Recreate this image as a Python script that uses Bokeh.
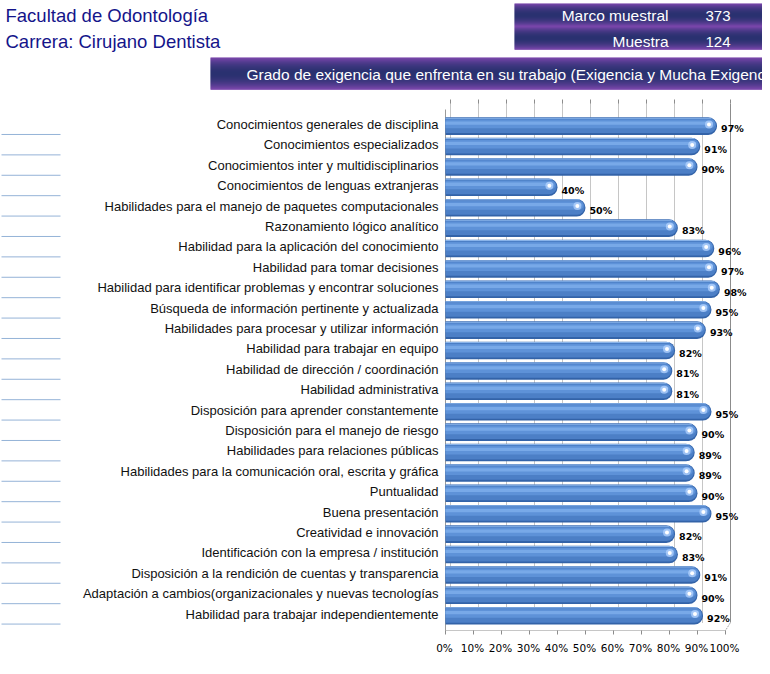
import math
from bokeh.plotting import figure
from bokeh.models import Range1d
from bokeh.embed import file_html
from bokeh.resources import INLINE
from bokeh.core.properties import value

# ---------------- data ----------------
categories = [
    "Conocimientos generales de disciplina",
    "Conocimientos especializados",
    "Conocimientos inter y multidisciplinarios",
    "Conocimientos de lenguas extranjeras",
    "Habilidades para el manejo de paquetes computacionales",
    "Razonamiento lógico analítico",
    "Habilidad para la aplicación del conocimiento",
    "Habilidad para tomar decisiones",
    "Habilidad para identificar problemas y encontrar soluciones",
    "Búsqueda de información pertinente y actualizada",
    "Habilidades para procesar y utilizar información",
    "Habilidad para trabajar en equipo",
    "Habilidad de dirección / coordinación",
    "Habilidad administrativa",
    "Disposición para aprender constantemente",
    "Disposición para el manejo de riesgo",
    "Habilidades para relaciones públicas",
    "Habilidades para la comunicación oral, escrita y gráfica",
    "Puntualidad",
    "Buena presentación",
    "Creatividad e innovación",
    "Identificación con la empresa / institución",
    "Disposición a la rendición de cuentas y transparencia",
    "Adaptación a cambios(organizacionales y nuevas tecnologías",
    "Habilidad para trabajar independientemente",
]
values = [97, 91, 90, 40, 50, 83, 96, 97, 98, 95, 93, 82, 81, 81, 95,
          90, 89, 89, 90, 95, 82, 83, 91, 90, 92]
tick_values = [0, 10, 20, 30, 40, 50, 60, 70, 80, 90, 100]
tick_labels = ["0%", "10%", "20%", "30%", "40%", "50%", "60%", "70%", "80%", "90%", "100%"]
header_lines = ["Facultad de Odontología", "Carrera: Cirujano Dentista"]
box_labels = ["Marco muestral", "Muestra"]
box_numbers = ["373", "124"]
title_text = "Grado de exigencia que enfrenta en su trabajo (Exigencia y Mucha Exigencia)"

# ---------------- layout helpers (pixel <-> data) ----------------
W, H = 762, 666
X0_PX = 445.0        # pixel of 0 %
PX_PER_UNIT = 2.8    # pixels per 1 %
Y0_PX = 125.0        # pixel of first category centre
ROW_PX = 20.4        # pixels per category


def px2x(px):
    return (px - X0_PX) / PX_PER_UNIT


def py2y(py):
    return (py - Y0_PX) / ROW_PX


p = figure(width=W, height=H,
           x_range=Range1d(px2x(0), px2x(W)),
           y_range=Range1d(py2y(H), py2y(0)),
           x_axis_location=None, y_axis_location=None,
           output_backend="svg", toolbar_location=None, min_border=0)
p.xgrid.visible = False
p.ygrid.visible = False
p.outline_line_color = None
p.background_fill_color = "white"
p.border_fill_color = "white"

idx = list(range(len(categories)))

# ---------------- gradient banners ----------------
PURPLE = (112, 46, 166)
NAVY = (12, 20, 92)


def mix(t):
    w = math.sin(math.pi * t) ** 0.8
    c = [int(round(PURPLE[k] * (1 - w) + NAVY[k] * w)) for k in range(3)]
    return "#%02x%02x%02x" % tuple(c)


def banner(left_px, right_px, top_px, bottom_px, nbands):
    L, R, T, B, C = [], [], [], [], []
    band_h = (bottom_px - top_px) / nbands
    step = 1.0
    for b in range(nbands):
        y = 0.0
        while y < band_h - 1e-9:
            y2 = min(band_h, y + step)
            t = (y + y2) / 2 / band_h
            L.append(px2x(left_px))
            R.append(px2x(right_px))
            T.append(py2y(top_px + b * band_h + y))
            B.append(py2y(top_px + b * band_h + y2 + 0.3))
            C.append(mix(t))
            y = y2
    p.quad(left=L, right=R, top=T, bottom=B, fill_color=C, line_color=None)


banner(514, 762, 3, 49, 2)
banner(210, 762, 57, 89, 1)

# ---------------- header texts ----------------
p.text(x=[px2x(5)] * 2, y=[py2y(15), py2y(41)], text=header_lines,
       text_font=value("Liberation Sans"), text_font_size="18.5px",
       text_color="#14148a", text_align="left", text_baseline="middle")
p.text(x=[px2x(668)] * 2, y=[py2y(15), py2y(41)], text=box_labels,
       text_font=value("Liberation Sans"), text_font_size="15.5px",
       text_color="white", text_align="right", text_baseline="middle")
p.text(x=[px2x(705)] * 2, y=[py2y(15), py2y(41)], text=box_numbers,
       text_font=value("Liberation Sans"), text_font_size="15px",
       text_color="white", text_align="left", text_baseline="middle")
p.text(x=[px2x(246)], y=[py2y(74)], text=[title_text],
       text_font=value("Liberation Sans"), text_font_size="15.5px",
       text_color="white", text_align="left", text_baseline="middle")

# ---------------- left decorative lines ----------------
p.segment(x0=[px2x(1)] * len(idx), x1=[px2x(60)] * len(idx),
          y0=[i + 0.44 for i in idx], y1=[i + 0.44 for i in idx],
          line_color="#95b3d7", line_width=1)

# ---------------- walls / grid ----------------
BACK = 5 / PX_PER_UNIT
grid_top = py2y(103)
grid_bot = py2y(622)
inner = [t for t in tick_values if t < 100]
p.segment(x0=[t + BACK for t in inner], x1=[t + BACK for t in inner],
          y0=[grid_top] * len(inner), y1=[grid_bot] * len(inner),
          line_color="#8c8c8c", line_width=1, line_dash="1 1")
p.segment(x0=[100 + BACK], x1=[100 + BACK], y0=[grid_top], y1=[grid_bot],
          line_color="#8c8c8c", line_width=1)
# top tick marks
p.segment(x0=[t + BACK for t in tick_values], x1=[t + BACK for t in tick_values],
          y0=[py2y(99)] * len(tick_values), y1=[py2y(103)] * len(tick_values),
          line_color="#8c8c8c", line_width=1)
# left wall
p.segment(x0=[0], x1=[0], y0=[py2y(109)], y1=[py2y(630)],
          line_color="#9a9a9a", line_width=1)
# floor
p.segment(x0=[0, 100], x1=[100, 100 + BACK], y0=[py2y(630), py2y(630)],
          y1=[py2y(630), py2y(622)], line_color="#8c8c8c", line_width=1,
          line_dash="1 1")
p.segment(x0=tick_values, x1=tick_values,
          y0=[py2y(630)] * len(tick_values), y1=[py2y(634)] * len(tick_values),
          line_color="#8c8c8c", line_width=1)

# ---------------- cylinder bars ----------------
p.hbar(y=[i + 0.03 for i in idx], left=0, right=values, height=0.86,
       fill_color="#3363a8", line_color=None, border_radius=(0, 9, 9, 0))
p.hbar(y=[i + 0.0 for i in idx], left=0, right=[v - 0.3 for v in values], height=0.74,
       fill_color="#4c7fc6", line_color=None, border_radius=(0, 8, 8, 0))
p.hbar(y=[i - 0.08 for i in idx], left=0, right=[v - 0.7 for v in values], height=0.42,
       fill_color="#5e92d8", line_color=None, border_radius=(0, 5, 5, 0))
p.hbar(y=[i - 0.12 for i in idx], left=0, right=[v - 1.4 for v in values], height=0.16,
       fill_color="#78a9e8", line_color=None, border_radius=(0, 2, 2, 0))
p.hbar(y=[i - 0.36 for i in idx], left=0, right=[v - 2.0 for v in values], height=0.05,
       fill_color="#8ab4ea", line_color=None)

# highlight dots
p.scatter(x=[v - 2.9 for v in values], y=[i - 0.05 for i in idx], size=8,
          fill_color="#b8d6ff", fill_alpha=0.7, line_color=None)
p.scatter(x=[v - 2.9 for v in values], y=[i - 0.05 for i in idx], size=4,
          fill_color="white", line_color=None)

# ---------------- texts: values, categories, ticks ----------------
p.text(x=values, y=[i + 0.17 for i in idx], text=[f"{v}%" for v in values],
       x_offset=4, text_font=value("DejaVu Sans"), text_font_size="9.5px",
       text_font_style="bold", text_color="black", text_align="left",
       text_baseline="middle")
p.text(x=[0] * len(idx), y=[i - 0.05 for i in idx], text=categories,
       x_offset=-7, text_font=value("Liberation Sans"), text_font_size="13px",
       text_color="#111111", text_align="right", text_baseline="middle")
p.text(x=tick_values, y=[py2y(647)] * len(tick_values), text=tick_labels,
       x_offset=-1, text_font=value("DejaVu Sans"), text_font_size="10.5px",
       text_color="black", text_align="center", text_baseline="middle")

open("out.html", "w").write(file_html(p, INLINE))
